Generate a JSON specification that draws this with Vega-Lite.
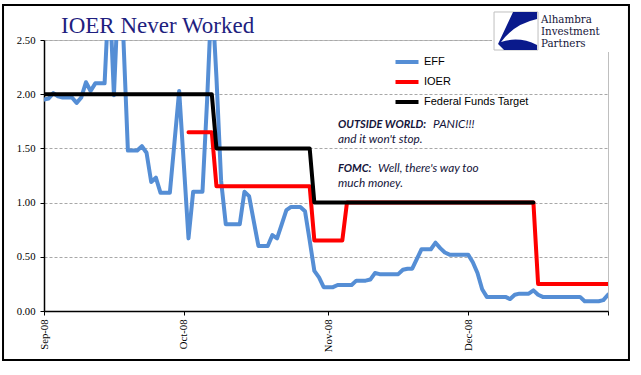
{
  "$schema": "https://vega.github.io/schema/vega-lite/v6.json",
  "autosize": {"type": "none"},
  "padding": {"left": 44, "top": 40, "right": 33, "bottom": 64},
  "width": 564,
  "height": 271,
  "background": "white",
  "title": {"text": "IOER Never Worked", "anchor": "start", "frame": "group", "offset": -26, "dx": 17, "dy": 26, "font": "Liberation Serif", "fontSize": 23, "fontWeight": "normal", "color": "#1f1f7f", "baseline": "alphabetic"},
  "config": {
    "view": {"stroke": "#BFBFBF", "strokeWidth": 1},
    "legend": {"orient": "none", "legendX": 351, "legendY": 10, "direction": "vertical", "symbolType": "M-1.15,0H1.15", "symbolStrokeWidth": 4, "symbolSize": 400, "labelFont": "Liberation Sans", "labelFontSize": 11, "labelColor": "#000000", "labelOffset": 5, "rowPadding": 0, "padding": 0}
  },
  "datasets": {
    "rates": [
      {"d": "2008-09-01", "EFF": 1.95, "FFT": 2},
      {"d": "2008-09-02", "EFF": 1.96, "FFT": 2},
      {"d": "2008-09-03", "EFF": 2.01, "FFT": 2},
      {"d": "2008-09-04", "EFF": 1.98, "FFT": 2},
      {"d": "2008-09-05", "EFF": 1.97, "FFT": 2},
      {"d": "2008-09-06", "EFF": 1.97, "FFT": 2},
      {"d": "2008-09-07", "EFF": 1.97, "FFT": 2},
      {"d": "2008-09-08", "EFF": 1.92, "FFT": 2},
      {"d": "2008-09-09", "EFF": 1.97, "FFT": 2},
      {"d": "2008-09-10", "EFF": 2.11, "FFT": 2},
      {"d": "2008-09-11", "EFF": 2.03, "FFT": 2},
      {"d": "2008-09-12", "EFF": 2.10, "FFT": 2},
      {"d": "2008-09-13", "EFF": 2.10, "FFT": 2},
      {"d": "2008-09-14", "EFF": 2.10, "FFT": 2},
      {"d": "2008-09-15", "EFF": 3.00, "FFT": 2},
      {"d": "2008-09-16", "EFF": 1.99, "FFT": 2},
      {"d": "2008-09-17", "EFF": 3.00, "FFT": 2},
      {"d": "2008-09-18", "EFF": 2.55, "FFT": 2},
      {"d": "2008-09-19", "EFF": 1.48, "FFT": 2},
      {"d": "2008-09-20", "EFF": 1.48, "FFT": 2},
      {"d": "2008-09-21", "EFF": 1.48, "FFT": 2},
      {"d": "2008-09-22", "EFF": 1.52, "FFT": 2},
      {"d": "2008-09-23", "EFF": 1.46, "FFT": 2},
      {"d": "2008-09-24", "EFF": 1.19, "FFT": 2},
      {"d": "2008-09-25", "EFF": 1.23, "FFT": 2},
      {"d": "2008-09-26", "EFF": 1.09, "FFT": 2},
      {"d": "2008-09-27", "EFF": 1.09, "FFT": 2},
      {"d": "2008-09-28", "EFF": 1.09, "FFT": 2},
      {"d": "2008-09-29", "EFF": 1.56, "FFT": 2},
      {"d": "2008-09-30", "EFF": 2.03, "FFT": 2},
      {"d": "2008-10-01", "EFF": 1.35, "FFT": 2},
      {"d": "2008-10-02", "EFF": 0.67, "FFT": 2, "IOER": 1.65},
      {"d": "2008-10-03", "EFF": 1.10, "FFT": 2, "IOER": 1.65},
      {"d": "2008-10-04", "EFF": 1.10, "FFT": 2, "IOER": 1.65},
      {"d": "2008-10-05", "EFF": 1.10, "FFT": 2, "IOER": 1.65},
      {"d": "2008-10-06", "EFF": 1.95, "FFT": 2, "IOER": 1.65},
      {"d": "2008-10-07", "EFF": 2.95, "FFT": 2, "IOER": 1.65},
      {"d": "2008-10-08", "EFF": 2.15, "FFT": 1.5, "IOER": 1.15},
      {"d": "2008-10-09", "EFF": 1.20, "FFT": 1.5, "IOER": 1.15},
      {"d": "2008-10-10", "EFF": 0.80, "FFT": 1.5, "IOER": 1.15},
      {"d": "2008-10-11", "EFF": 0.80, "FFT": 1.5, "IOER": 1.15},
      {"d": "2008-10-12", "EFF": 0.80, "FFT": 1.5, "IOER": 1.15},
      {"d": "2008-10-13", "EFF": 0.80, "FFT": 1.5, "IOER": 1.15},
      {"d": "2008-10-14", "EFF": 1.10, "FFT": 1.5, "IOER": 1.15},
      {"d": "2008-10-15", "EFF": 1.06, "FFT": 1.5, "IOER": 1.15},
      {"d": "2008-10-16", "EFF": 0.83, "FFT": 1.5, "IOER": 1.15},
      {"d": "2008-10-17", "EFF": 0.60, "FFT": 1.5, "IOER": 1.15},
      {"d": "2008-10-18", "EFF": 0.60, "FFT": 1.5, "IOER": 1.15},
      {"d": "2008-10-19", "EFF": 0.60, "FFT": 1.5, "IOER": 1.15},
      {"d": "2008-10-20", "EFF": 0.70, "FFT": 1.5, "IOER": 1.15},
      {"d": "2008-10-21", "EFF": 0.67, "FFT": 1.5, "IOER": 1.15},
      {"d": "2008-10-22", "EFF": 0.80, "FFT": 1.5, "IOER": 1.15},
      {"d": "2008-10-23", "EFF": 0.93, "FFT": 1.5, "IOER": 1.15},
      {"d": "2008-10-24", "EFF": 0.96, "FFT": 1.5, "IOER": 1.15},
      {"d": "2008-10-25", "EFF": 0.96, "FFT": 1.5, "IOER": 1.15},
      {"d": "2008-10-26", "EFF": 0.96, "FFT": 1.5, "IOER": 1.15},
      {"d": "2008-10-27", "EFF": 0.92, "FFT": 1.5, "IOER": 1.15},
      {"d": "2008-10-28", "EFF": 0.65, "FFT": 1.5, "IOER": 1.15},
      {"d": "2008-10-29", "EFF": 0.37, "FFT": 1, "IOER": 0.65},
      {"d": "2008-10-30", "EFF": 0.31, "FFT": 1, "IOER": 0.65},
      {"d": "2008-10-31", "EFF": 0.22, "FFT": 1, "IOER": 0.65},
      {"d": "2008-11-01", "EFF": 0.22, "FFT": 1, "IOER": 0.65},
      {"d": "2008-11-02", "EFF": 0.22, "FFT": 1, "IOER": 0.65},
      {"d": "2008-11-03", "EFF": 0.24, "FFT": 1, "IOER": 0.65},
      {"d": "2008-11-04", "EFF": 0.24, "FFT": 1, "IOER": 0.65},
      {"d": "2008-11-05", "EFF": 0.24, "FFT": 1, "IOER": 1},
      {"d": "2008-11-06", "EFF": 0.24, "FFT": 1, "IOER": 1},
      {"d": "2008-11-07", "EFF": 0.28, "FFT": 1, "IOER": 1},
      {"d": "2008-11-08", "EFF": 0.28, "FFT": 1, "IOER": 1},
      {"d": "2008-11-09", "EFF": 0.28, "FFT": 1, "IOER": 1},
      {"d": "2008-11-10", "EFF": 0.29, "FFT": 1, "IOER": 1},
      {"d": "2008-11-11", "EFF": 0.35, "FFT": 1, "IOER": 1},
      {"d": "2008-11-12", "EFF": 0.34, "FFT": 1, "IOER": 1},
      {"d": "2008-11-13", "EFF": 0.34, "FFT": 1, "IOER": 1},
      {"d": "2008-11-14", "EFF": 0.34, "FFT": 1, "IOER": 1},
      {"d": "2008-11-15", "EFF": 0.34, "FFT": 1, "IOER": 1},
      {"d": "2008-11-16", "EFF": 0.34, "FFT": 1, "IOER": 1},
      {"d": "2008-11-17", "EFF": 0.38, "FFT": 1, "IOER": 1},
      {"d": "2008-11-18", "EFF": 0.39, "FFT": 1, "IOER": 1},
      {"d": "2008-11-19", "EFF": 0.39, "FFT": 1, "IOER": 1},
      {"d": "2008-11-20", "EFF": 0.48, "FFT": 1, "IOER": 1},
      {"d": "2008-11-21", "EFF": 0.57, "FFT": 1, "IOER": 1},
      {"d": "2008-11-22", "EFF": 0.57, "FFT": 1, "IOER": 1},
      {"d": "2008-11-23", "EFF": 0.57, "FFT": 1, "IOER": 1},
      {"d": "2008-11-24", "EFF": 0.63, "FFT": 1, "IOER": 1},
      {"d": "2008-11-25", "EFF": 0.58, "FFT": 1, "IOER": 1},
      {"d": "2008-11-26", "EFF": 0.54, "FFT": 1, "IOER": 1},
      {"d": "2008-11-27", "EFF": 0.52, "FFT": 1, "IOER": 1},
      {"d": "2008-11-28", "EFF": 0.52, "FFT": 1, "IOER": 1},
      {"d": "2008-11-29", "EFF": 0.52, "FFT": 1, "IOER": 1},
      {"d": "2008-11-30", "EFF": 0.52, "FFT": 1, "IOER": 1},
      {"d": "2008-12-01", "EFF": 0.52, "FFT": 1, "IOER": 1},
      {"d": "2008-12-02", "EFF": 0.45, "FFT": 1, "IOER": 1},
      {"d": "2008-12-03", "EFF": 0.35, "FFT": 1, "IOER": 1},
      {"d": "2008-12-04", "EFF": 0.20, "FFT": 1, "IOER": 1},
      {"d": "2008-12-05", "EFF": 0.13, "FFT": 1, "IOER": 1},
      {"d": "2008-12-06", "EFF": 0.13, "FFT": 1, "IOER": 1},
      {"d": "2008-12-07", "EFF": 0.13, "FFT": 1, "IOER": 1},
      {"d": "2008-12-08", "EFF": 0.13, "FFT": 1, "IOER": 1},
      {"d": "2008-12-09", "EFF": 0.13, "FFT": 1, "IOER": 1},
      {"d": "2008-12-10", "EFF": 0.11, "FFT": 1, "IOER": 1},
      {"d": "2008-12-11", "EFF": 0.15, "FFT": 1, "IOER": 1},
      {"d": "2008-12-12", "EFF": 0.16, "FFT": 1, "IOER": 1},
      {"d": "2008-12-13", "EFF": 0.16, "FFT": 1, "IOER": 1},
      {"d": "2008-12-14", "EFF": 0.16, "FFT": 1, "IOER": 1},
      {"d": "2008-12-15", "EFF": 0.19, "FFT": 1, "IOER": 1},
      {"d": "2008-12-16", "EFF": 0.15, "IOER": 0.25},
      {"d": "2008-12-17", "EFF": 0.13, "IOER": 0.25},
      {"d": "2008-12-18", "EFF": 0.13, "IOER": 0.25},
      {"d": "2008-12-19", "EFF": 0.13, "IOER": 0.25},
      {"d": "2008-12-20", "EFF": 0.13, "IOER": 0.25},
      {"d": "2008-12-21", "EFF": 0.13, "IOER": 0.25},
      {"d": "2008-12-22", "EFF": 0.13, "IOER": 0.25},
      {"d": "2008-12-23", "EFF": 0.13, "IOER": 0.25},
      {"d": "2008-12-24", "EFF": 0.13, "IOER": 0.25},
      {"d": "2008-12-25", "EFF": 0.13, "IOER": 0.25},
      {"d": "2008-12-26", "EFF": 0.09, "IOER": 0.25},
      {"d": "2008-12-27", "EFF": 0.09, "IOER": 0.25},
      {"d": "2008-12-28", "EFF": 0.09, "IOER": 0.25},
      {"d": "2008-12-29", "EFF": 0.09, "IOER": 0.25},
      {"d": "2008-12-30", "EFF": 0.10, "IOER": 0.25},
      {"d": "2008-12-31", "EFF": 0.15, "IOER": 0.25}
    ]
  },
  "layer": [
    {
      "data": {"name": "rates"},
      "transform": [
        {"fold": ["EFF", "IOER", "FFT"], "as": ["series", "value"]},
        {"filter": "datum.series === 'EFF' && isValid(datum.value)"}
      ],
      "mark": {"type": "line", "strokeWidth": 4, "strokeCap": "round", "strokeJoin": "round", "clip": true},
      "encoding": {
        "x": {
          "field": "d", "type": "temporal",
          "scale": {"type": "utc", "domain": [{"year": 2008, "month": 9, "date": 1, "utc": true}, {"year": 2008, "month": 12, "date": 31, "utc": true}], "nice": false},
          "axis": {
            "values": [{"year": 2008, "month": 9, "date": 1, "utc": true}, {"year": 2008, "month": 10, "date": 1, "utc": true}, {"year": 2008, "month": 11, "date": 1, "utc": true}, {"year": 2008, "month": 12, "date": 1, "utc": true}, {"year": 2008, "month": 12, "date": 31, "utc": true}],
            "format": "%b-%y",
            "labelExpr": "utcdate(datum.value) == 31 ? '' : datum.label",
            "labelAngle": -90,
            "labelFont": "Liberation Serif", "labelFontSize": 10.7, "labelColor": "#000000", "labelPadding": 4,
            "tickSize": 4, "tickColor": "#000000", "domainColor": "#000000", "domainWidth": 1.5,
            "grid": false, "title": null
          }
        },
        "y": {
          "field": "value", "type": "quantitative",
          "scale": {"domain": [0, 2.5], "nice": false, "zero": true},
          "axis": {
            "values": [0, 0.5, 1, 1.5, 2, 2.5], "format": ".2f",
            "labelFont": "Liberation Serif", "labelFontSize": 10.7, "labelColor": "#000000", "labelPadding": 5,
            "tickSize": 4, "tickColor": "#000000", "domainColor": "#000000", "domainWidth": 1.5,
            "grid": true, "gridColor": "#A8A8A8", "gridDash": [3, 2], "title": null
          }
        },
        "color": {
          "field": "series", "type": "nominal",
          "scale": {"domain": ["EFF", "IOER", "FFT"], "range": ["#558ED5", "#FF0000", "#000000"]},
          "legend": {"title": null, "labelExpr": "datum.label == 'FFT' ? 'Federal Funds Target' : datum.label"}
        }
      }
    },
    {
      "data": {"name": "rates"},
      "transform": [
        {"fold": ["EFF", "IOER", "FFT"], "as": ["series", "value"]},
        {"filter": "datum.series === 'IOER' && isValid(datum.value)"}
      ],
      "mark": {"type": "line", "strokeWidth": 4, "strokeCap": "round", "strokeJoin": "round", "clip": true},
      "encoding": {
        "x": {"field": "d", "type": "temporal"},
        "y": {"field": "value", "type": "quantitative"},
        "color": {"field": "series", "type": "nominal"}
      }
    },
    {
      "data": {"name": "rates"},
      "transform": [
        {"fold": ["EFF", "IOER", "FFT"], "as": ["series", "value"]},
        {"filter": "datum.series === 'FFT' && isValid(datum.value)"}
      ],
      "mark": {"type": "line", "strokeWidth": 4, "strokeCap": "round", "strokeJoin": "round", "clip": true},
      "encoding": {
        "x": {"field": "d", "type": "temporal"},
        "y": {"field": "value", "type": "quantitative"},
        "color": {"field": "series", "type": "nominal"}
      }
    },
    {
      "data": {"values": [{}]},
      "mark": {"type": "text", "align": "left", "baseline": "alphabetic", "font": "Lato", "fontSize": 11, "fontStyle": "italic", "fontWeight": "bold", "color": "#14143a", "text": "OUTSIDE WORLD:"},
      "encoding": {
        "x": {"datum": {"year": 2008, "month": 11, "date": 3, "hours": 2, "utc": true}, "type": "temporal"},
        "y": {"datum": 1.688, "type": "quantitative"}
      }
    },
    {
      "data": {"values": [{}]},
      "mark": {"type": "text", "align": "left", "baseline": "alphabetic", "font": "Lato", "fontSize": 11.8, "fontStyle": "italic", "color": "#14143a", "text": "PANIC!!!", "dx": 95},
      "encoding": {
        "x": {"datum": {"year": 2008, "month": 11, "date": 3, "hours": 2, "utc": true}, "type": "temporal"},
        "y": {"datum": 1.688, "type": "quantitative"}
      }
    },
    {
      "data": {"values": [{}]},
      "mark": {"type": "text", "align": "left", "baseline": "alphabetic", "font": "Lato", "fontSize": 11.8, "fontStyle": "italic", "color": "#14143a", "text": "and it won't stop."},
      "encoding": {
        "x": {"datum": {"year": 2008, "month": 11, "date": 3, "hours": 2, "utc": true}, "type": "temporal"},
        "y": {"datum": 1.55, "type": "quantitative"}
      }
    },
    {
      "data": {"values": [{}]},
      "mark": {"type": "text", "align": "left", "baseline": "alphabetic", "font": "Lato", "fontSize": 11, "fontStyle": "italic", "fontWeight": "bold", "color": "#14143a", "text": "FOMC:"},
      "encoding": {
        "x": {"datum": {"year": 2008, "month": 11, "date": 3, "hours": 2, "utc": true}, "type": "temporal"},
        "y": {"datum": 1.282, "type": "quantitative"}
      }
    },
    {
      "data": {"values": [{}]},
      "mark": {"type": "text", "align": "left", "baseline": "alphabetic", "font": "Lato", "fontSize": 11.8, "fontStyle": "italic", "color": "#14143a", "text": "Well, there's way too", "dx": 40},
      "encoding": {
        "x": {"datum": {"year": 2008, "month": 11, "date": 3, "hours": 2, "utc": true}, "type": "temporal"},
        "y": {"datum": 1.282, "type": "quantitative"}
      }
    },
    {
      "data": {"values": [{}]},
      "mark": {"type": "text", "align": "left", "baseline": "alphabetic", "font": "Lato", "fontSize": 11.8, "fontStyle": "italic", "color": "#14143a", "text": "much money."},
      "encoding": {
        "x": {"datum": {"year": 2008, "month": 11, "date": 3, "hours": 2, "utc": true}, "type": "temporal"},
        "y": {"datum": 1.144, "type": "quantitative"}
      }
    },
    {
      "data": {"values": [{}]},
      "mark": {"type": "rect", "fill": "white", "clip": false},
      "encoding": {
        "x": {"datum": {"year": 2008, "month": 12, "date": 6, "hours": 3, "utc": true}, "type": "temporal"},
        "x2": {"datum": {"year": 2009, "month": 1, "date": 1, "hours": 12, "utc": true}},
        "y": {"datum": 2.795, "type": "quantitative"},
        "y2": {"datum": 2.389}
      }
    },
    {
      "data": {"values": [{}]},
      "mark": {"type": "point", "shape": "M-1,-0.864H1V0.864H-1Z", "size": 1936, "filled": true, "fill": "white", "stroke": "#BFBFBF", "strokeWidth": 1, "opacity": 1},
      "encoding": {
        "x": {"datum": {"year": 2008, "month": 12, "date": 11, "hours": 6, "minutes": 30, "utc": true}, "type": "temporal"},
        "y": {"datum": 2.583, "type": "quantitative"}
      }
    },
    {
      "data": {"values": [{}]},
      "mark": {"type": "point", "shape": "M-0.136,-0.864L0.955,-0.864L0.955,-0.545Q-0.09,-0.318,-0.682,0.5Q0.136,0.227,0.955,0.636L0.955,0.864L-0.545,0.864L-0.818,0.591Z", "size": 1936, "filled": true, "fill": "#0A1A8C", "strokeWidth": 0, "opacity": 1},
      "encoding": {
        "x": {"datum": {"year": 2008, "month": 12, "date": 11, "hours": 6, "minutes": 30, "utc": true}, "type": "temporal"},
        "y": {"datum": 2.583, "type": "quantitative"}
      }
    },
    {
      "data": {"values": [{}]},
      "mark": {"type": "text", "align": "left", "baseline": "alphabetic", "font": "DejaVu Serif", "fontSize": 10.3, "lineHeight": 12, "color": "#15153a", "text": ["Alhambra", "Investment", "Partners"]},
      "encoding": {
        "x": {"datum": {"year": 2008, "month": 12, "date": 16, "hours": 15, "utc": true}, "type": "temporal"},
        "y": {"datum": 2.66, "type": "quantitative"}
      }
    },
    {
      "data": {"values": [{}]},
      "mark": {"type": "rect", "fillOpacity": 0, "stroke": "#000000", "strokeWidth": 2, "clip": false},
      "encoding": {
        "x": {"datum": {"year": 2008, "month": 8, "date": 23, "hours": 5, "utc": true}, "type": "temporal"},
        "x2": {"datum": {"year": 2009, "month": 1, "date": 4, "hours": 12, "utc": true}},
        "y": {"datum": 2.823, "type": "quantitative"},
        "y2": {"datum": -0.452}
      }
    }
  ]
}
